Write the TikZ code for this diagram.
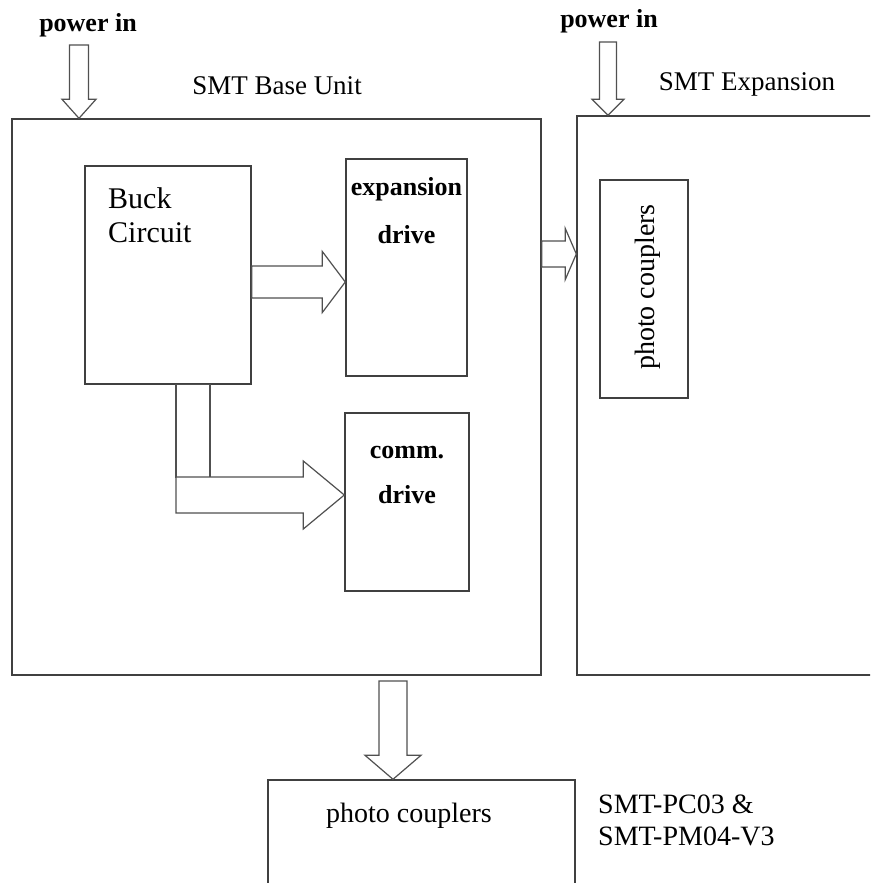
\documentclass[tikz,border=0pt]{standalone}
\usepackage{fontspec}
\setmainfont{Liberation Serif}
\usetikzlibrary{calc,positioning}
\definecolor{boxline}{HTML}{404040}
\definecolor{arrowline}{HTML}{505050}
\tikzset{
  every node/.style={text=black, inner sep=0pt},
  box/.style={rectangle, draw=boxline, line width=1.4pt},
  txt/.style={font=\fontsize{28}{32}\selectfont},
  bigtxt/.style={font=\fontsize{30}{34}\selectfont},
  boldtxt/.style={font=\fontsize{26}{#1}\selectfont\bfseries},
  title/.style={font=\fontsize{27}{30}\selectfont},
  blockarrow/.style={draw=arrowline, line width=1.2pt, fill=white,
    line join=miter},
}
% hollow block arrow: start, tip, shaft half width, head half width, head length
\newcommand{\fatarrow}[5]{%
  \coordinate (fahead) at ($(#2)!#5!(#1)$);
  \draw[blockarrow] ($(#1)!#3!90:(#2)$) -- ($(fahead)!#3!90:(#2)$)
    -- ($(fahead)!#4!90:(#2)$) -- (#2) -- ($(fahead)!#4!-90:(#2)$)
    -- ($(fahead)!#3!-90:(#2)$) -- ($(#1)!#3!-90:(#2)$) -- cycle;}

\begin{document}
\begin{tikzpicture}[x=1pt,y=-1pt]
\useasboundingbox (0,0) rectangle (870,883);
\clip (0,0) rectangle (870,883);

% ---- Units ------------------------------------------------------------------
\node[box, minimum width=529pt, minimum height=556pt] (basebox) at (276.5,397) {};
\node[box, minimum width=323pt, minimum height=559pt] (expbox) at (738.5,395.5) {};
\node[box, minimum width=307pt, minimum height=160pt] (pcbox) at (421.5,860) {};

\node[title, anchor=base] (basetitle) at (277,94) {SMT Base Unit};
\node[title, anchor=base] (exptitle) at (747,90) {SMT Expansion};
\node[boldtxt=30, anchor=base] (powerA) at (88,32) {power in};
\node[boldtxt=30, anchor=base] (powerB) at (609,28) {power in};

% ---- Blocks -----------------------------------------------------------------
\node[box, minimum width=166pt, minimum height=218pt] (buck) at (168,275) {};
\node[box, minimum width=121pt, minimum height=217pt] (expdrive) at (406.5,267.5) {};
\node[box, minimum width=124pt, minimum height=178pt] (commdrive) at (407,502) {};
\node[box, minimum width=88pt, minimum height=218pt] (pcvert) at (644,289) {};

% multi-line labels sit on the baseline of their last line
\node[bigtxt, align=left, anchor=base west] (bucktxt) at (108,242) {Buck\\Circuit};
\node[boldtxt=48, align=center, anchor=base] (exptxt) at (406.5,243) {expansion\\drive};
\node[boldtxt=45, align=center, anchor=base] (commtxt) at (407,503) {comm.\\drive};
\node[txt, rotate=90] (pcverttxt) at (648,287) {photo couplers};
\node[txt, anchor=base] (pctxt) at (409,822) {photo couplers};
\node[txt, align=left, anchor=base west] (modeltxt) at (598,845)
  {SMT-PC03 \&\\SMT-PM04-V3};

% ---- Power and signal arrows ------------------------------------------------
\coordinate (pinA) at (79,45);
\coordinate (pinAend) at (pinA |- basebox.north);
\fatarrow{pinA}{pinAend}{9.5pt}{17pt}{19pt}

\coordinate (pinB) at (608,42);
\coordinate (pinBend) at (pinB |- expbox.north);
\fatarrow{pinB}{pinBend}{8.5pt}{16pt}{16pt}

\coordinate (feedA) at ($(buck.east)+(0,7)$);
\coordinate (feedAend) at (feedA -| expdrive.west);
\fatarrow{feedA}{feedAend}{16pt}{30.5pt}{23pt}

\coordinate (tap) at (176,495);
\draw[blockarrow] (tap |- buck.south) rectangle ++(34,93);
\coordinate (feedBend) at (tap -| commdrive.west);
\fatarrow{tap}{feedBend}{18pt}{34pt}{41pt}

\coordinate (link) at ($(basebox.east)+(0,-143)$);
\coordinate (linkend) at (link -| expbox.west);
\fatarrow{link}{linkend}{13pt}{25.5pt}{11pt}

\coordinate (out) at (393,681);
\coordinate (outend) at (out |- pcbox.north);
\fatarrow{out}{outend}{14pt}{28pt}{24pt}

\end{tikzpicture}
\end{document}
